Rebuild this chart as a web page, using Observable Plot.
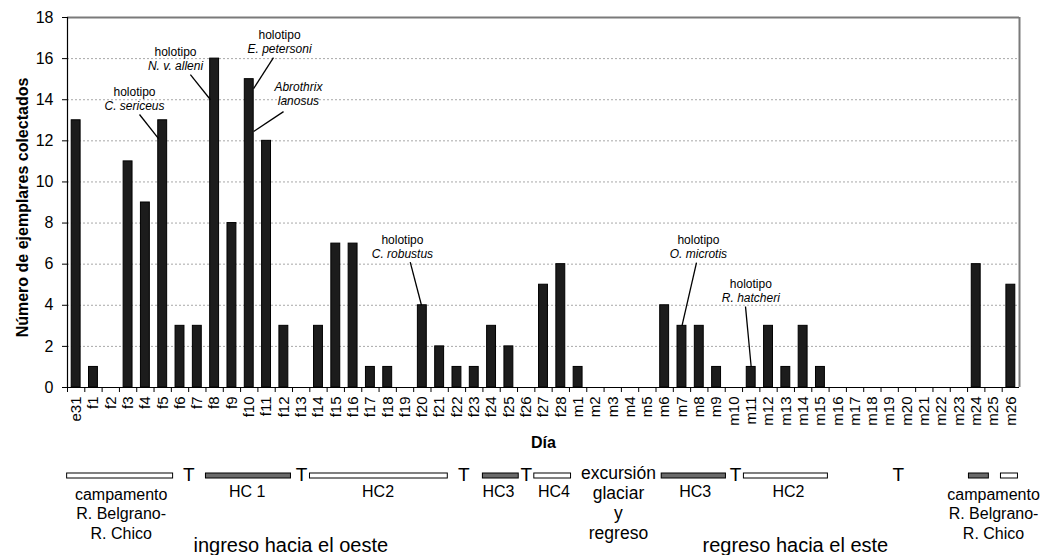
<!DOCTYPE html>
<html>
<head>
<meta charset="utf-8">
<script src="https://cdn.jsdelivr.net/npm/d3@7"></script>
<script src="https://cdn.jsdelivr.net/npm/@observablehq/plot@0.6"></script>
<style>
  html, body { margin: 0; padding: 0; background: #fff; }
  #chart svg { display: block; }
</style>
</head>
<body>
<div id="chart"></div>
<script>
// ---- data ----
const categories = ["e31",
  "f1","f2","f3","f4","f5","f6","f7","f8","f9","f10","f11","f12","f13","f14",
  "f15","f16","f17","f18","f19","f20","f21","f22","f23","f24","f25","f26","f27","f28",
  "m1","m2","m3","m4","m5","m6","m7","m8","m9","m10","m11","m12","m13",
  "m14","m15","m16","m17","m18","m19","m20","m21","m22","m23","m24","m25","m26"];
const counts = [13,
  1,0,11,9,13,3,3,16,8,15,12,3,0,3,
  7,7,1,1,0,4,2,1,1,3,2,0,5,6,
  1,0,0,0,0,4,3,3,1,0,1,3,1,
  3,1,0,0,0,0,0,0,0,0,6,0,5];
const yTicks = [0, 2, 4, 6, 8, 10, 12, 14, 16, 18];

// callouts: label lines, text anchor (category index units, value units), leader line
const calloutLine1 = ["holotipo", "holotipo", "holotipo", "Abrothrix", "holotipo", "holotipo", "holotipo"];
const calloutLine2 = ["C. sericeus", "N. v. alleni", "E. petersoni", "lanosus", "C. robustus", "O. microtis", "R. hatcheri"];
const calloutTextX = [3.87, 6.24, 12.25, 13.34, 19.35, 36.45, 39.48];
const calloutTextY = [14.01, 15.99, 16.81, 14.29, 6.81, 6.81, 4.67];
const leaderFromX = [4.16, 7.10, 11.90, 12.48, 19.80, 36.34, 39.17];
const leaderFromY = [13.28, 15.22, 16.05, 13.42, 6.10, 6.08, 3.94];
const leaderToX   = [5.26, 8.26, 10.75, 10.75, 20.45, 35.50, 39.50];
const leaderToY   = [12.11, 14.00, 14.54, 12.45, 4.00, 3.00, 1.00];

// field-trip segments under the axis (category index units)
const segStart = [-0.05, 7.97, 13.98, 23.97, 26.94, 34.30, 39.05, 52.05, 53.90];
const segEnd   = [6.13, 12.94, 22.00, 26.10, 29.12, 38.07, 43.96, 53.26, 54.94];
const segKind  = ["open", "filled", "open", "filled", "open", "filled", "open", "filled", "open"];
const tMarks   = [7.01, 13.52, 22.90, 26.50, 38.60, 48.00];
const segLabels = ["HC 1", "HC2", "HC3", "HC4", "HC3", "HC2"];
const segLabelX = [10.38, 17.94, 24.90, 28.10, 36.26, 41.65];
const campLabel = "campamento\nR. Belgrano-\nR. Chico";
const campLabelX = [3.10, 53.50];
const excursionLabel = "excursión\nglaciar\ny\nregreso";
const excursionX = 31.83;
const legLabels = ["ingreso hacia el oeste", "regreso hacia el este"];
const legLabelX = [12.90, 42.05];

// ---- tables ----
const bars = categories.map((c, i) => ({cat: c, i, n: counts[i]})).filter(d => d.n > 0);
const callouts = calloutLine1.map((l1, k) => ({
  l1, l2: calloutLine2[k], x: calloutTextX[k], y: calloutTextY[k],
  x1: leaderFromX[k], y1: leaderFromY[k], x2: leaderToX[k], y2: leaderToY[k],
  italic1: l1 !== "holotipo"
}));
const segs = segStart.map((s, k) => ({s, e: segEnd[k], kind: segKind[k]}));

const font = "'Liberation Sans', Arial, Helvetica, sans-serif";
const laneDy = 88;

const chart = Plot.plot({
  width: 1043,
  height: 555,
  marginLeft: 67,
  marginRight: 24,
  marginTop: 17,
  marginBottom: 168,
  style: {fontFamily: font, fontSize: "12px", color: "black", background: "white"},
  x: {domain: [0, categories.length], axis: null},
  y: {domain: [0, 18], axis: null},
  marks: [
    Plot.gridY(yTicks.filter(v => v > 0 && v < 18), {stroke: "#a8a8a8", strokeOpacity: 1, strokeDasharray: "2,2", strokeWidth: 1}),
    Plot.rectY(bars, {x1: d => d.i, x2: d => d.i + 1, y: "n", insetLeft: 4.2, insetRight: 4.2, fill: "#1c1c1c", stroke: "black", strokeWidth: 1}),
    // frame
    Plot.ruleY([18], {stroke: "#7a7a7a", strokeWidth: 2}),
    Plot.ruleX([categories.length], {y1: 0, y2: 18, stroke: "#7a7a7a", strokeWidth: 2}),
    Plot.ruleX([0], {y1: 0, y2: 18, stroke: "black", strokeWidth: 1.2}),
    Plot.ruleY([0], {stroke: "black", strokeWidth: 1.2}),
    // axes
    Plot.axisY(yTicks, {tickSize: 5, tickPadding: 9, fontSize: 16, label: null, stroke: "black"}),
    Plot.axisX(categories.map((c, i) => i), {tickSize: 5, tickFormat: () => "", label: null, stroke: "black"}),
    Plot.axisX(categories.map((c, i) => i + 0.5), {tickSize: 0, tickPadding: 9, tickRotate: -90, fontSize: 15, label: null, tickFormat: d => categories[Math.floor(d)]}),
    Plot.text(["Número de ejemplares colectados"], {frameAnchor: "left", textAnchor: "middle", rotate: -90, dx: -45, dy: 5, fontWeight: "bold", fontSize: 16}),
    Plot.text(["Día"], {frameAnchor: "bottom", dy: 60, fontWeight: "bold", fontSize: 16}),
    // callouts
    Plot.link(callouts, {x1: "x1", y1: "y1", x2: "x2", y2: "y2", stroke: "black", strokeWidth: 1.3}),
    Plot.text(callouts.filter(d => !d.italic1), {x: "x", y: "y", text: "l1", dy: -7, fontSize: 12}),
    Plot.text(callouts.filter(d => d.italic1), {x: "x", y: "y", text: "l1", dy: -7, fontSize: 12, fontStyle: "italic"}),
    Plot.text(callouts, {x: "x", y: "y", text: "l2", dy: 7, fontSize: 12, fontStyle: "italic"}),
    // field-trip lane
    Plot.ruleY(segs, {x1: "s", x2: "e", y: () => 0, dy: laneDy, stroke: "black", strokeWidth: 6}),
    Plot.ruleY(segs, {x1: "s", x2: "e", y: () => 0, dy: laneDy, stroke: d => d.kind === "filled" ? "#6a6a6a" : "white", strokeWidth: 4, insetLeft: 1, insetRight: 1}),
    Plot.text(tMarks, {x: d => d, y: () => 0, dy: laneDy - 1, text: () => "T", fontSize: 19}),
    Plot.text(segLabels, {x: (d, k) => segLabelX[k], y: () => 0, dy: 104, text: d => d, fontSize: 16}),
    Plot.text(campLabelX, {x: d => d, y: () => 0, dy: 99, text: () => campLabel, fontSize: 16, lineAnchor: "top", lineHeight: 1.2}),
    Plot.text([excursionLabel], {x: () => excursionX, y: () => 0, dy: 77, text: d => d, fontSize: 17.5, lineAnchor: "top", lineHeight: 1.15}),
    Plot.text(legLabels, {x: (d, k) => legLabelX[k], y: () => 0, dy: 158, text: d => d, fontSize: 20})
  ]
});
document.getElementById("chart").appendChild(chart);
</script>
</body>
</html>
